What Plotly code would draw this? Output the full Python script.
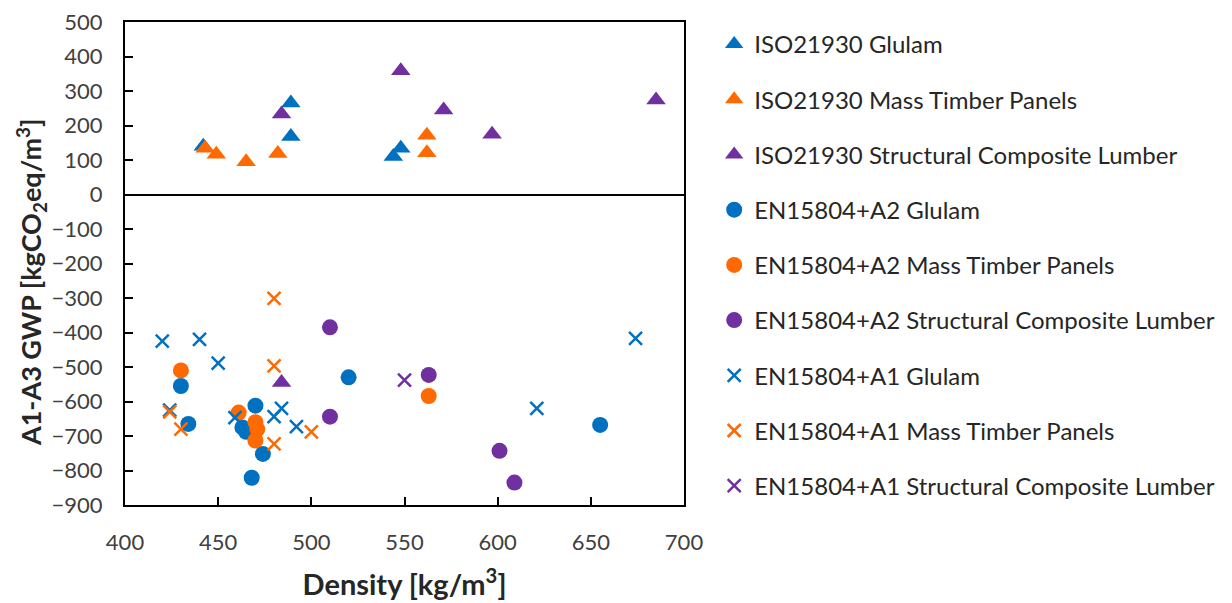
import plotly.graph_objects as go

# ---- data ----
iso_glulam_x = [442, 489, 489, 544, 548]
iso_glulam_y = [140, 265, 168, 110, 134]

iso_mtp_x = [443, 449, 465, 482, 562, 562]
iso_mtp_y = [134, 117, 95, 119, 172, 121]

iso_scl_x = [484, 548, 571, 597, 685, 484]
iso_scl_y = [233, 359, 245, 175, 274, -545]

a2_glulam_x = [430, 434, 470, 463, 465, 474, 468, 520, 655]
a2_glulam_y = [-555, -665, -612, -675, -688, -752, -821, -530, -668]

a2_mtp_x = [430, 461, 470, 471, 470, 563]
a2_mtp_y = [-510, -632, -660, -680, -713, -584]

a2_scl_x = [510, 510, 563, 601, 609]
a2_scl_y = [-385, -644, -523, -743, -835]

a1_glulam_x = [420, 440, 450, 424, 459, 480, 484, 492, 621, 674]
a1_glulam_y = [-425, -420, -489, -625, -647, -644, -620, -673, -620, -417]

a1_mtp_x = [480, 480, 424, 430, 480, 500]
a1_mtp_y = [-301, -497, -630, -680, -723, -688]

a1_scl_x = [550]
a1_scl_y = [-538]

BLUE = "#0070C0"
ORANGE = "#FF6A00"
PURPLE = "#7030A0"

series = [
    ("ISO21930 Glulam", iso_glulam_x, iso_glulam_y, "triangle-up", BLUE),
    ("ISO21930 Mass Timber Panels", iso_mtp_x, iso_mtp_y, "triangle-up", ORANGE),
    ("ISO21930 Structural Composite Lumber", iso_scl_x, iso_scl_y, "triangle-up", PURPLE),
    ("EN15804+A2 Glulam", a2_glulam_x, a2_glulam_y, "circle", BLUE),
    ("EN15804+A2 Mass Timber Panels", a2_mtp_x, a2_mtp_y, "circle", ORANGE),
    ("EN15804+A2 Structural Composite Lumber", a2_scl_x, a2_scl_y, "circle", PURPLE),
    ("EN15804+A1 Glulam", a1_glulam_x, a1_glulam_y, "x-thin-open", BLUE),
    ("EN15804+A1 Mass Timber Panels", a1_mtp_x, a1_mtp_y, "x-thin-open", ORANGE),
    ("EN15804+A1 Structural Composite Lumber", a1_scl_x, a1_scl_y, "x-thin-open", PURPLE),
]

fig = go.Figure()
for i, (name, xs, ys, sym, col) in enumerate(series):
    if sym == "x-thin-open":
        marker = dict(symbol=sym, size=13, color=col, line=dict(color=col, width=2.5))
    elif sym == "triangle-up":
        marker = dict(symbol=sym, size=17, color=col, line=dict(width=0))
    else:
        marker = dict(symbol=sym, size=16, color=col, line=dict(width=0))
    fig.add_trace(go.Scatter(x=xs, y=ys, mode="markers", name=name,
                             marker=marker, legendgroup=f"g{i}"))

FONT = "Lato"
fig.update_layout(
    width=1224, height=595,
    paper_bgcolor="white", plot_bgcolor="white",
    margin=dict(l=117, r=545, t=14, b=98),
    font=dict(family=FONT, size=20, color="#404040"),
    legend=dict(x=1.054, y=1.0, xanchor="left", yanchor="top",
                font=dict(family=FONT, size=24, color="#262626"),
                tracegroupgap=21, itemwidth=30, bgcolor="rgba(0,0,0,0)",
                maxheight=590),
    xaxis=dict(range=[400, 700], dtick=50, showgrid=False, automargin=False,
               showline=True, linecolor="black", linewidth=2, mirror=True,
               ticks="inside", ticklen=8, tickwidth=2, tickcolor="black",
               zeroline=False, ticklabelstandoff=17, ticklabeloverflow="allow",
               tickfont=dict(family=FONT, size=22, color="#404040"),
               title=dict(text="<b>Density [kg/m<sup>3</sup>]</b>",
                          font=dict(family=FONT, size=29, color="#262626"),
                          standoff=20)),
    yaxis=dict(range=[-900, 500], dtick=100, showgrid=False, automargin=False,
               showline=True, linecolor="black", linewidth=2, mirror=True,
               ticks="inside", ticklen=8, tickwidth=2, tickcolor="black",
               zeroline=True, zerolinecolor="black", zerolinewidth=2,
               ticklabelstandoff=16, ticklabeloverflow="allow",
               tickfont=dict(family=FONT, size=22, color="#404040")),
    annotations=[dict(text="<b>A1-A3 GWP [kgCO<sub>2</sub>eq/m<sup>3</sup>]</b>",
                      xref="paper", yref="paper", x=-0.168, y=0.4617,
                      xanchor="center", yanchor="middle", textangle=-90,
                      showarrow=False,
                      font=dict(family=FONT, size=27, color="#262626"))],
)

fig.write_html("out.html")
